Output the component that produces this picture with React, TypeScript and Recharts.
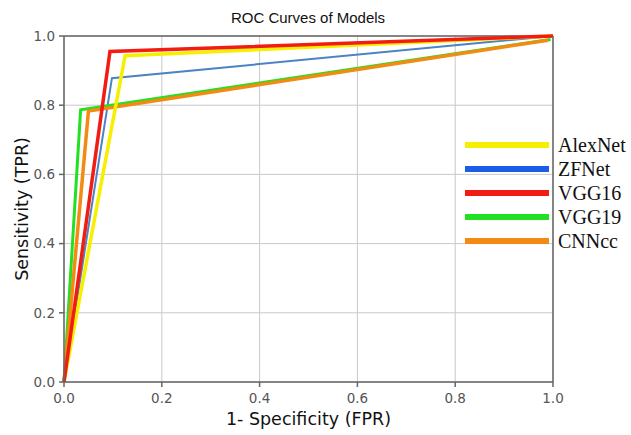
import React from 'react';
import { LineChart, Line, XAxis, YAxis, CartesianGrid, Legend, ReferenceLine, Label } from 'recharts';

const models = ['AlexNet', 'ZFNet', 'VGG16', 'VGG19', 'CNNcc'];
const lineColors = ['#f6ef00', '#4a84c4', '#f21c12', '#22e022', '#f38a14'];
const legendColors = ['#f6ef00', '#1c5de6', '#f21c12', '#22e022', '#f38a14'];
const lineWidths = [3.5, 2, 3.5, 3, 3.5];

const fprAlexNet = [0, 0.125, 1];
const tprAlexNet = [0, 0.943, 1];
const fprZFNet = [0, 0.098, 1];
const tprZFNet = [0, 0.878, 1];
const fprVGG16 = [0, 0.094, 1];
const tprVGG16 = [0, 0.955, 1];
const fprVGG19 = [0, 0.034, 0.995];
const tprVGG19 = [0, 0.787, 0.99];
const fprCNNcc = [0, 0.05, 0.99];
const tprCNNcc = [0, 0.783, 0.988];

const axisTicks = [0, 0.2, 0.4, 0.6, 0.8, 1.0];

const toPoints = (xs: number[], ys: number[]) => xs.map((x, i) => ({ x, y: ys[i] }));
const seriesData = [
  toPoints(fprAlexNet, tprAlexNet),
  toPoints(fprZFNet, tprZFNet),
  toPoints(fprVGG16, tprVGG16),
  toPoints(fprVGG19, tprVGG19),
  toPoints(fprCNNcc, tprCNNcc),
];
const drawOrder = [1, 3, 4, 0, 2];

const LegendContent = () => (
  <div style={{ display: 'flex', flexDirection: 'column' }}>
    {models.map((m, i) => (
      <div key={m} style={{ display: 'flex', alignItems: 'center', height: 24 }}>
        <div style={{ width: 84, height: 6, background: legendColors[i], marginRight: 9 }} />
        <span style={{ fontFamily: '"Liberation Serif", "Times New Roman", serif', fontSize: 20, color: '#111', lineHeight: '24px' }}>{m}</span>
      </div>
    ))}
  </div>
);

const labelFont = { fontFamily: '"DejaVu Sans", sans-serif', fontSize: 17.5, fill: '#111' };
const tickFont = { fill: '#555', fontSize: 13.5, fontFamily: '"DejaVu Sans", sans-serif' };

export default function App() {
  return (
    <div style={{ position: 'absolute', left: 0, top: 0, width: 631, height: 435, background: '#fff' }}>
      <LineChart width={631} height={435} margin={{ top: 36, right: 78, bottom: 0, left: 36 }}>
        <text x={308} y={23} textAnchor="middle" style={{ fontFamily: '"Liberation Sans", Arial, sans-serif', fontSize: 15, fill: '#111' }}>ROC Curves of Models</text>
        <CartesianGrid stroke="#c9c9c9" strokeWidth={1} />
        <XAxis
          type="number"
          dataKey="x"
          domain={[0, 1]}
          ticks={axisTicks}
          tickFormatter={(v: number) => v.toFixed(1)}
          allowDuplicatedCategory={false}
          stroke="#666"
          strokeWidth={1.5}
          tickSize={5}
          tickMargin={6}
          tick={tickFont}
          height={53}
        >
          <Label value="1- Specificity (FPR)" position="insideBottom" offset={10} style={labelFont} />
        </XAxis>
        <YAxis
          type="number"
          dataKey="y"
          domain={[0, 1]}
          ticks={axisTicks}
          tickFormatter={(v: number) => v.toFixed(1)}
          stroke="#666"
          strokeWidth={1.5}
          tickSize={5}
          tickMargin={4}
          width={28}
          tick={tickFont}
        >
          <Label value="Sensitivity (TPR)" angle={-90} position="left" offset={14} style={{ ...labelFont, textAnchor: 'middle' }} />
        </YAxis>
        <ReferenceLine x={1} stroke="#666" strokeWidth={1.5} />
        <ReferenceLine y={1} stroke="#666" strokeWidth={1.5} />
        {drawOrder.map((i) => (
          <Line
            key={models[i]}
            data={seriesData[i]}
            dataKey="y"
            name={models[i]}
            type="linear"
            stroke={lineColors[i]}
            strokeWidth={lineWidths[i]}
            dot={false}
            activeDot={false}
            isAnimationActive={false}
          />
        ))}
        <Legend
          layout="vertical"
          align="center"
          verticalAlign="middle"
          content={<LegendContent />}
          wrapperStyle={{ top: 133, left: 465, width: 170, height: 125 }}
        />
      </LineChart>
    </div>
  );
}
